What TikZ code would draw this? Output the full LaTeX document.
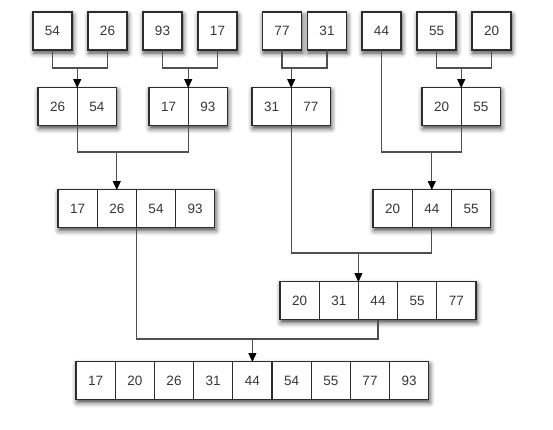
\documentclass[tikz,border=0pt]{standalone}
\usepackage{fontspec}
\setmainfont{Liberation Sans}
\usetikzlibrary{positioning, calc, arrows.meta, shadows.blur, backgrounds}
\definecolor{boxline}{RGB}{45,45,45}
\definecolor{linkgrey}{RGB}{80,80,80}
\definecolor{numgrey}{RGB}{55,55,55}
\def\boxStroke{1.3pt}
\def\linkStroke{1.1pt}

\begin{document}
\begin{tikzpicture}[x=1pt, y=-1pt,
  cell/.style={draw=boxline, line width=\boxStroke, fill=white, inner sep=0pt, outer sep=0pt,
    minimum width=39.2pt, minimum height=38pt, text=numgrey,
    font=\fontsize{13.5}{16}\selectfont},
  shade/.style={fill=white,
    blur shadow={shadow xshift=1pt, shadow yshift=-3pt, shadow blur radius=5pt, shadow opacity=75}},
  link/.style={draw=linkgrey, line width=\linkStroke},
  feed/.style={link, -{Triangle[length=9pt, width=8pt, color=black]}, shorten >=-0.5pt}]

% Frame
\useasboundingbox (0,0) rectangle (553,429);

% Grid dimensions
\def\cellw{39.2}
\def\rowA{31}
\def\rowB{106.5}
\def\rowC{208.5}
\def\rowD{300.5}
\def\rowE{380.5}

% --- Row 1: single items ---
\foreach \v/\x [count=\i] in {54/52.5, 26/107.5, 93/162.5, 17/217.5, 77/282, 31/327, 44/381.5, 55/436.5, 20/491.5}
  \node[cell] (a\i) at (\x, \rowA) {\v};

% --- Row 2: merged pairs ---
\foreach \v/\x [count=\i] in {26/57.6, 54/96.8, 17/168.6, 93/207.8, 31/271.6, 77/310.8, 20/441.6, 55/480.8}
  \node[cell] (b\i) at (\x, \rowB) {\v};

% --- Row 3: merged fours and threes ---
\foreach \v [count=\i] in {17, 26, 54, 93}
  \node[cell] (c\i) at ({58 + (\i-0.5)*\cellw}, \rowC) {\v};
\foreach \v [count=\i from 5] in {20, 44, 55}
  \node[cell] (c\i) at ({373 + (\i-4.5)*\cellw}, \rowC) {\v};

% --- Row 4: merged five ---
\foreach \v [count=\i] in {20, 31, 44, 55, 77}
  \node[cell] (d\i) at ({280 + (\i-0.5)*\cellw}, \rowD) {\v};

% --- Row 5: sorted list ---
\foreach \v [count=\i] in {17, 20, 26, 31, 44, 54, 55, 77, 93}
  \node[cell] (e\i) at ({76 + (\i-0.5)*\cellw}, \rowE) {\v};

% Shadows behind each group
\begin{scope}[on background layer]
  \foreach \i in {1,...,9}
    \path[shade] (a\i.north west) rectangle (a\i.south east);
  \foreach \i/\j in {1/2, 3/4, 5/6, 7/8}
    \path[shade] (b\i.north west) rectangle (b\j.south east);
  \path[shade] (c1.north west) rectangle (c4.south east);
  \path[shade] (c5.north west) rectangle (c7.south east);
  \path[shade] (d1.north west) rectangle (d5.south east);
  \path[shade] (e1.north west) rectangle (e9.south east);
\end{scope}

% Join points
\coordinate (j1) at (b1.north east |- 0,68);
\coordinate (j2) at (b3.north east |- 0,68);
\coordinate (j3) at (b5.north east |- 0,68);
\coordinate (j4) at (b7.north east |- 0,68);
\coordinate (j5) at (c2.north |- 0,152);
\coordinate (j6) at (c6.north |- 0,152);
\coordinate (j7) at (d2.north east |- 0,253);
\coordinate (j8) at (e5.north |- 0,339);

% Connectors into row 2
\draw[link] (a1.south) |- (j1) -| (a2.south);
\draw[feed] (j1) -- (b1.north east);
\draw[link] (a3.south) |- (j2) -| (a4.south);
\draw[feed] (j2) -- (b3.north east);
\draw[link] (a5.south) |- (j3) -| (a6.south);
\draw[feed] (j3) -- (b5.north east);
\draw[link] (a8.south) |- (j4) -| (a9.south);
\draw[feed] (j4) -- (b7.north east);

% Connectors into row 3
\draw[link] (b1.south east) |- (j5) -| (b3.south east);
\draw[feed] (j5) -- (c2.north);
\draw[link] (a7.south) |- (j6) -| (b7.south east);
\draw[feed] (j6) -- (c6.north);

% Connector into row 4
\draw[link] (b5.south east) |- (j7) -| (c6.south);
\draw[feed] (j7) -- (d2.north east);

% Connector into row 5
\draw[link] (c2.south east) |- (j8) -| (d3.south);
\draw[feed] (j8) -- (e5.north);

\end{tikzpicture}
\end{document}
